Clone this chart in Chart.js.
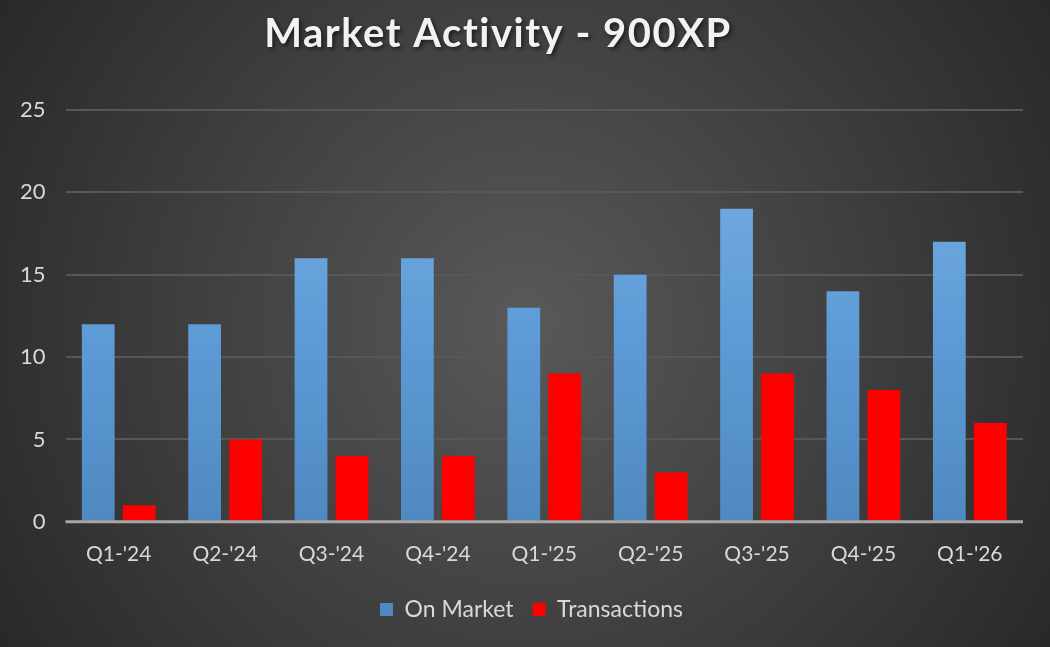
<!DOCTYPE html>
<html>
<head>
<meta charset="utf-8">
<script src="https://cdn.jsdelivr.net/npm/chart.js@4"></script>
<style>
  html, body { margin: 0; padding: 0; background: #3a3a3a; }
  #wrap { width: 1050px; height: 647px; position: relative; }
</style>
</head>
<body>
<div id="wrap"><canvas id="marketChart"></canvas></div>
<script>
const chartTitle = "Market Activity - 900XP";
const quarters = ["Q1-'24", "Q2-'24", "Q3-'24", "Q4-'24", "Q1-'25", "Q2-'25", "Q3-'25", "Q4-'25", "Q1-'26"];
const onMarket = [12, 12, 16, 16, 13, 15, 19, 14, 17];
const transactions = [1, 5, 4, 4, 9, 3, 9, 8, 6];
const yTicks = [0, 5, 10, 15, 20, 25];

const FONT = "Lato, 'Open Sans', sans-serif";
const TEXT = "#d9d9d9";

// dark radial background
const bgPlugin = {
    id: "bg",
    beforeDraw(chart) {
        const { ctx, width, height } = chart;
        const g = ctx.createRadialGradient(width / 2, height / 2, 0, width / 2, height / 2, width * 0.62);
        g.addColorStop(0, "#595959");
        g.addColorStop(1, "#262626");
        ctx.save();
        ctx.fillStyle = g;
        ctx.fillRect(0, 0, width, height);
        ctx.restore();
    },
    // legend sits a bit right of the canvas centre in the original
    afterLayout(chart) {
        if (chart.legend) {
            chart.legend.left += 20;
            chart.legend.right += 20;
        }
    },
    // axis line drawn over the bars, like the original
    afterDatasetsDraw(chart) {
        const { ctx, chartArea } = chart;
        const y = chart.scales.y.getPixelForValue(0);
        ctx.save();
        ctx.strokeStyle = "#a6a6a6";
        ctx.lineWidth = 3;
        ctx.beginPath();
        ctx.moveTo(chartArea.left, y);
        ctx.lineTo(chartArea.right, y);
        ctx.stroke();
        ctx.restore();
    },
    // title with letter spacing and shadow
    afterDraw(chart) {
        const { ctx, width } = chart;
        ctx.save();
        ctx.font = "bold 40px " + FONT;
        ctx.letterSpacing = "1.5px";
        ctx.textAlign = "center";
        ctx.textBaseline = "middle";
        ctx.shadowColor = "rgba(0,0,0,0.6)";
        ctx.shadowBlur = 4;
        ctx.shadowOffsetX = 2;
        ctx.shadowOffsetY = 2;
        ctx.fillStyle = "#f2f2f2";
        ctx.fillText(chartTitle, width / 2 - 27, 34);
        ctx.restore();
    }
};

function blueGradient(context) {
    const { chart } = context;
    const area = chart.chartArea;
    if (!area) return "#5b9bd5";
    const g = chart.ctx.createLinearGradient(0, area.top, 0, area.bottom);
    g.addColorStop(0, "#7eb0e2");
    g.addColorStop(0.5, "#5f9dd8");
    g.addColorStop(1, "#4f89c2");
    return g;
}

new Chart(document.getElementById("marketChart"), {
    type: "bar",
    data: {
        labels: quarters,
        datasets: [
            { label: "On Market", data: onMarket, backgroundColor: blueGradient, borderWidth: 0 },
            { label: "Transactions", data: transactions, backgroundColor: "#ff0000", borderWidth: 0 }
        ]
    },
    options: {
        responsive: true,
        maintainAspectRatio: false,
        animation: false,
        datasets: { bar: { categoryPercentage: 0.77, barPercentage: 0.8 } },
        layout: { padding: { left: 0, right: 27, top: 0, bottom: 16 } },
        plugins: {
            tooltip: { enabled: false },
            title: {
                display: true,
                text: chartTitle,
                color: "rgba(0,0,0,0)",
                font: { family: FONT, size: 40, weight: "bold" },
                padding: { top: 10, bottom: 52 }
            },
            legend: {
                position: "bottom",
                labels: {
                    color: TEXT,
                    font: { family: FONT, size: 23 },
                    boxWidth: 13,
                    boxHeight: 13,
                    padding: 19
                }
            }
        },
        scales: {
            x: {
                grid: { display: false },
                border: { display: false },
                ticks: { color: TEXT, font: { family: FONT, size: 21 }, padding: 12, maxRotation: 0 }
            },
            y: {
                min: 0,
                max: 25,
                afterBuildTicks(scale) { scale.ticks = yTicks.map(v => ({ value: v })); },
                grid: {
                    drawTicks: false,
                    color: ctx => ctx.tick && ctx.tick.value === 0 ? "rgba(0,0,0,0)" : "#575757",
                    lineWidth: 2
                },
                border: { display: false },
                ticks: { color: TEXT, font: { family: FONT, size: 22 }, padding: 20 }
            }
        }
    },
    plugins: [bgPlugin]
});
</script>
</body>
</html>
